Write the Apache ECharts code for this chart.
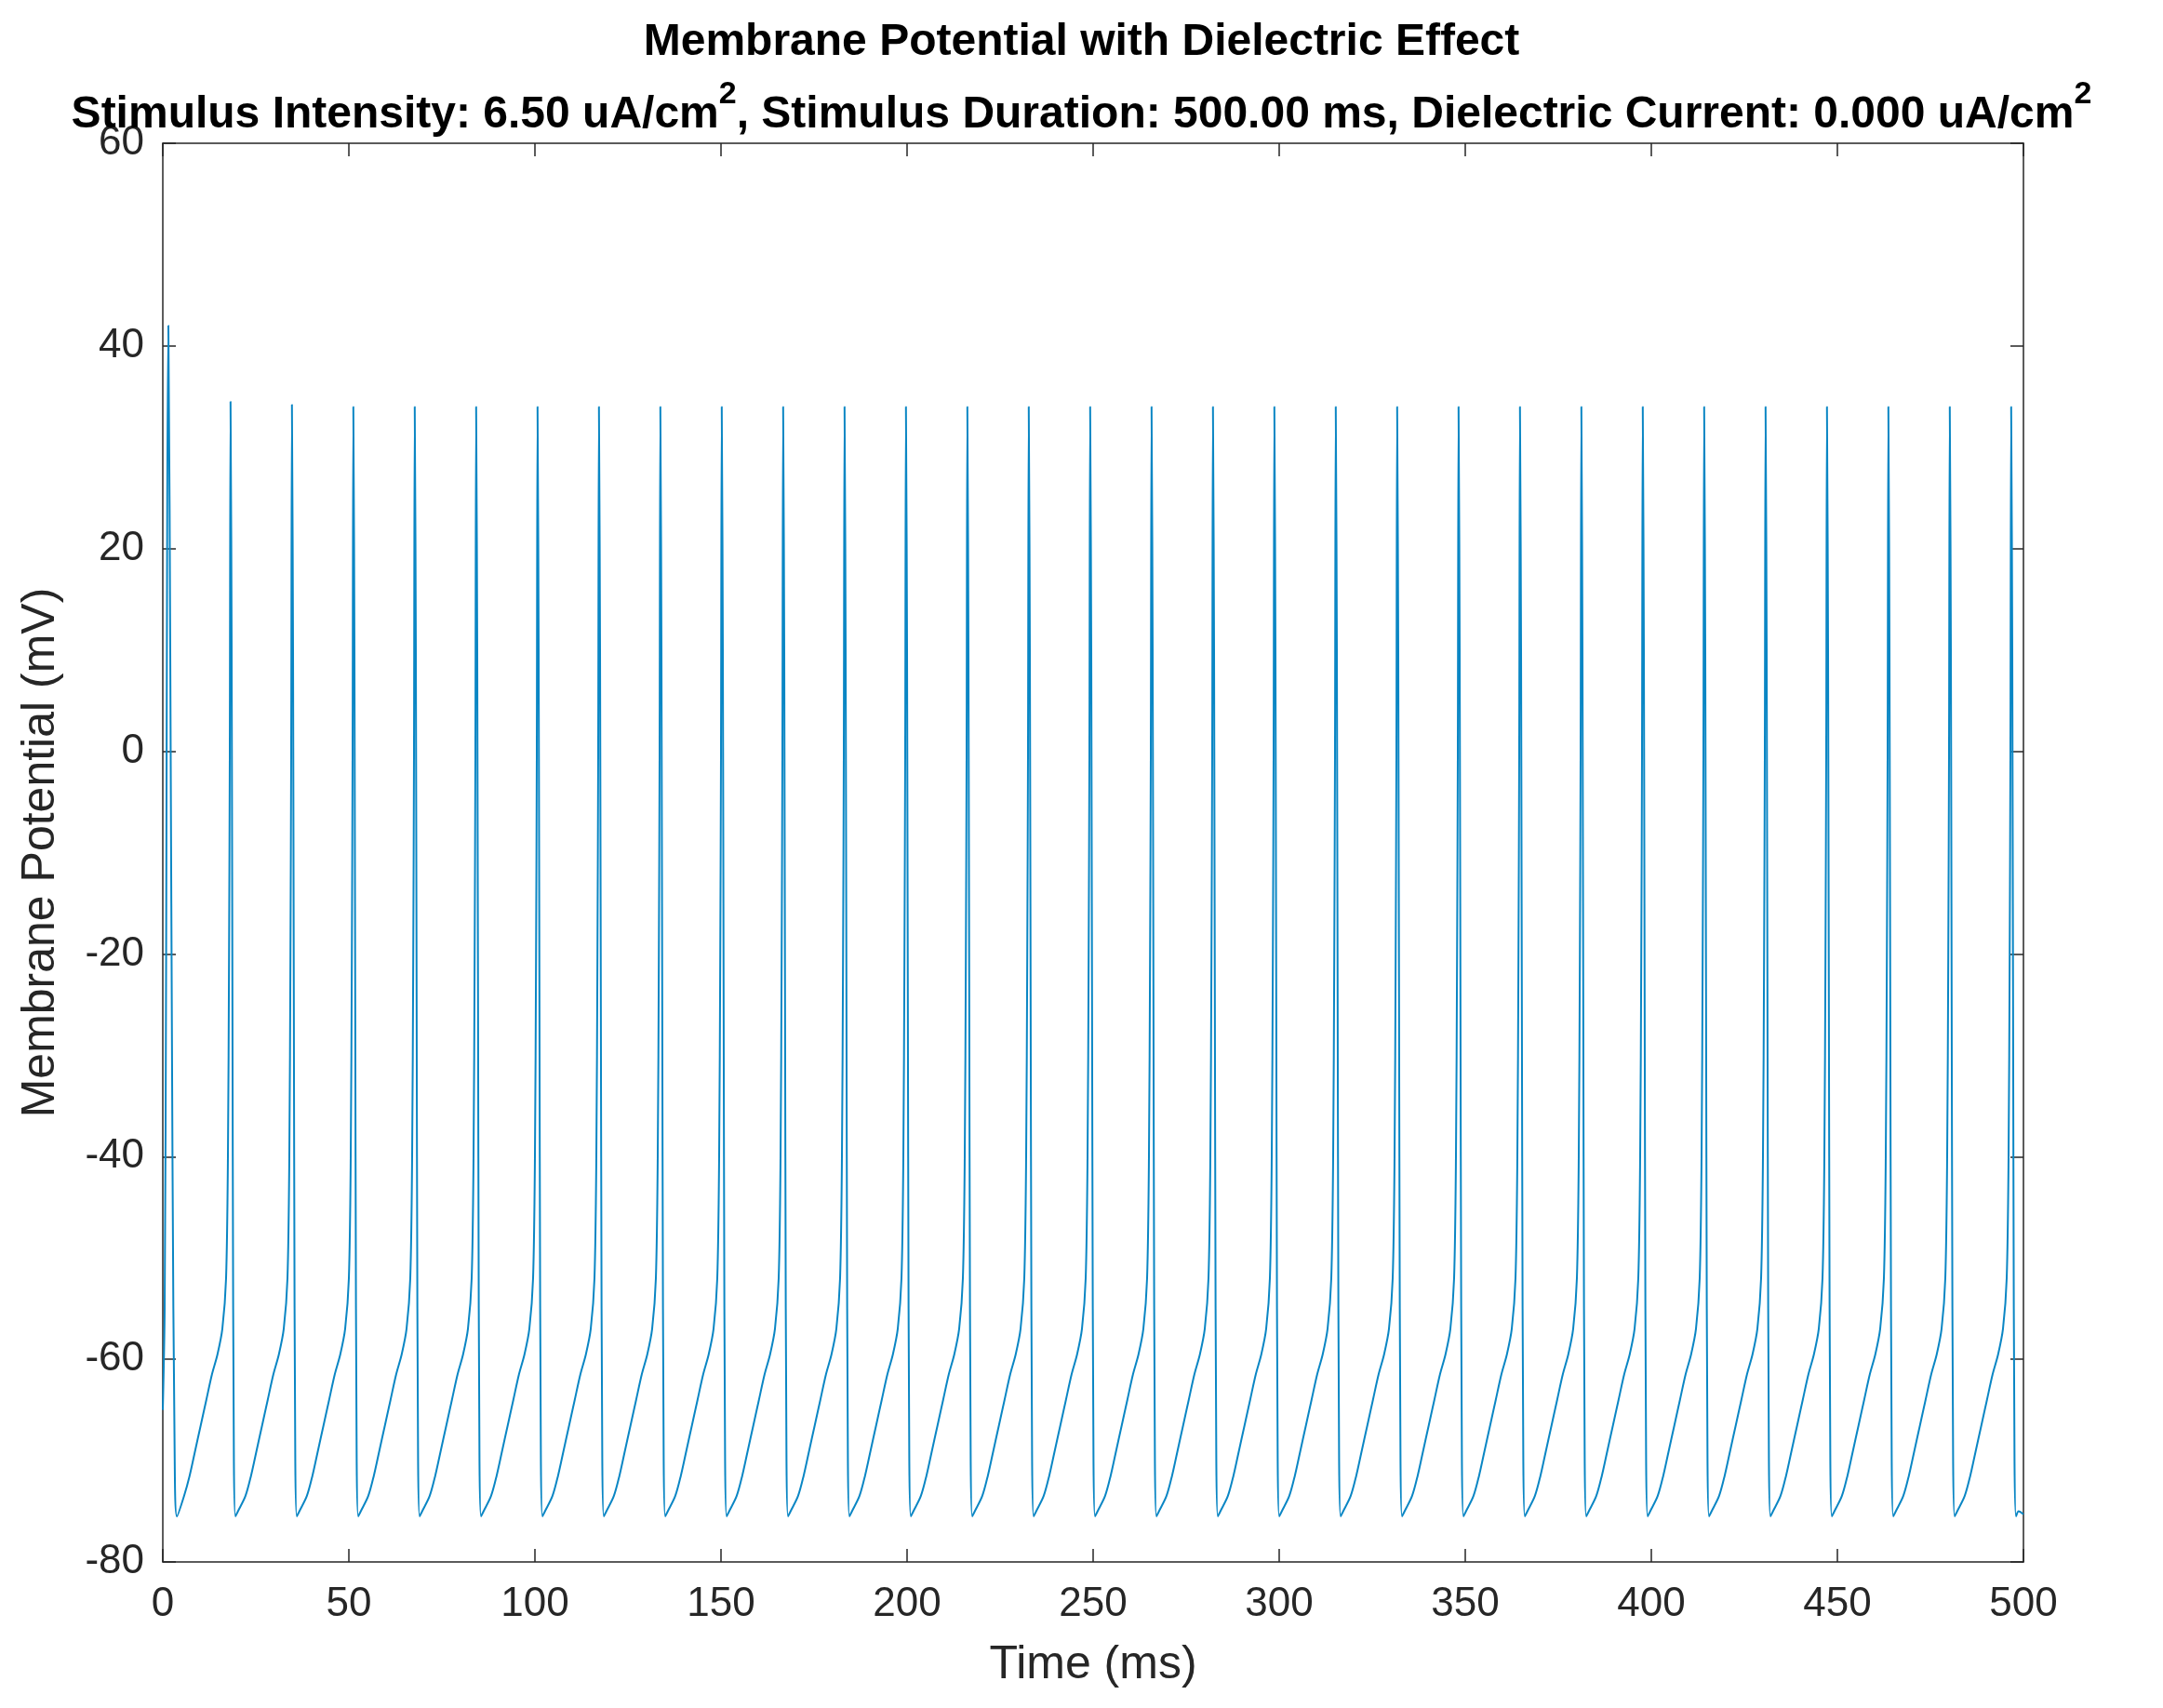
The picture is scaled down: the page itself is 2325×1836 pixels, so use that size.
<!DOCTYPE html>
<html>
<head>
<meta charset="utf-8">
<title>Membrane Potential with Dielectric Effect</title>
<script src="https://cdn.jsdelivr.net/npm/echarts@6/dist/echarts.min.js"></script>
<style>
  html, body { margin: 0; padding: 0; background: #fff; }
  #main { width: 2325px; height: 1836px; }
</style>
</head>
<body>
<div id="main"></div>
<script>
// start of trace: resting value then first (taller) spike
const onsetTimes = [0, 0.5, 0.9, 1.2, 1.5, 2.0, 2.6, 3.2, 3.8];
const onsetValues = [-65, -55, -20, 25, 42, 10, -40, -70, -75.5];
// peak times of the following spikes (ms)
const peakTimes = [18.2, 34.7, 51.2, 67.7, 84.2, 100.7, 117.2, 133.7, 150.2, 166.7,
  183.2, 199.7, 216.2, 232.7, 249.2, 265.7, 282.2, 298.7, 315.2, 331.7,
  348.2, 364.7, 381.2, 397.7, 414.2, 430.7, 447.2, 463.7, 480.2, 496.7];
const peakValues = [34.5, 34.2, 34, 34, 34, 34, 34, 34, 34, 34,
  34, 34, 34, 34, 34, 34, 34, 34, 34, 34,
  34, 34, 34, 34, 34, 34, 34, 34, 34, 34];
// one cycle: recovery before a spike (offset in ms before the peak) ...
const riseOffsets = [-12.5, -11, -9.5, -8, -6.5, -5, -3.5, -2.2, -1.2, -0.7, -0.4, -0.2];
const riseValues = [-73.5, -71.5, -69, -66.5, -64, -61.5, -59.5, -57, -52, -40, -20, 0];
// ... and the fall after it (offset in ms after the peak)
const fallOffsets = [0.3, 0.6, 0.9, 1.3, 2.0];
const fallValues = [10, -40, -70, -75.5, -75];

const data = [];
onsetTimes.forEach((t, i) => data.push([t, onsetValues[i]]));
peakTimes.forEach((p, k) => {
  riseOffsets.forEach((d, i) => data.push([p + d, riseValues[i]]));
  data.push([p, peakValues[k]]);
  fallOffsets.forEach((d, i) => { if (p + d <= 500) data.push([p + d, fallValues[i]]); });
});
data.push([500, -75.3]);

const chart = echarts.init(document.getElementById('main'));
const font = 'Liberation Sans, Arial, sans-serif';
function boxAxis(extra) {
  return Object.assign({
    axisLine: { show: true, onZero: false, lineStyle: { color: '#262626', width: 1.5 } },
    axisTick: { show: true, inside: true, length: 14, lineStyle: { color: '#262626', width: 1.5 } },
    splitLine: { show: false }
  }, extra);
}
const labelStyle = { fontFamily: font, fontSize: 44, color: '#262626' };
const nameStyle = { fontFamily: font, fontSize: 50, color: '#262626' };
chart.setOption({
  backgroundColor: '#fff',
  animation: false,
  title: {
    text: 'Membrane Potential with Dielectric Effect\nStimulus Intensity: 6.50 uA/cm{s|2}, Stimulus Duration: 500.00 ms, Dielectric Current: 0.000 uA/cm{s|2}',
    left: 'center', top: 2,
    textStyle: {
      fontFamily: font, fontSize: 48, fontWeight: 'bold', color: '#000', lineHeight: 78,
      rich: { s: { fontSize: 34, fontWeight: 'bold', verticalAlign: 'top', padding: [0, 0, 26, 0], fontFamily: font } }
    }
  },
  grid: { left: 175, right: 150, top: 154, bottom: 157 },
  xAxis: [
    boxAxis({
      type: 'value', min: 0, max: 500, interval: 50,
      name: 'Time (ms)', nameLocation: 'middle', nameGap: 86, nameTextStyle: nameStyle,
      axisLabel: Object.assign({ margin: 24 }, labelStyle)
    }),
    boxAxis({ type: 'value', position: 'top', min: 0, max: 500, interval: 50, axisLabel: { show: false } })
  ],
  yAxis: [
    boxAxis({
      type: 'value', min: -80, max: 60, interval: 20,
      name: 'Membrane Potential (mV)', nameLocation: 'middle', nameGap: 106, nameTextStyle: nameStyle,
      axisLabel: Object.assign({ margin: 20 }, labelStyle)
    }),
    boxAxis({ type: 'value', position: 'right', min: -80, max: 60, interval: 20, axisLabel: { show: false } })
  ],
  series: [{
    type: 'line',
    data: data,
    showSymbol: false,
    smooth: 0.3,
    lineStyle: { color: '#0a86c4', width: 2 }
  }]
});
</script>
</body>
</html>
